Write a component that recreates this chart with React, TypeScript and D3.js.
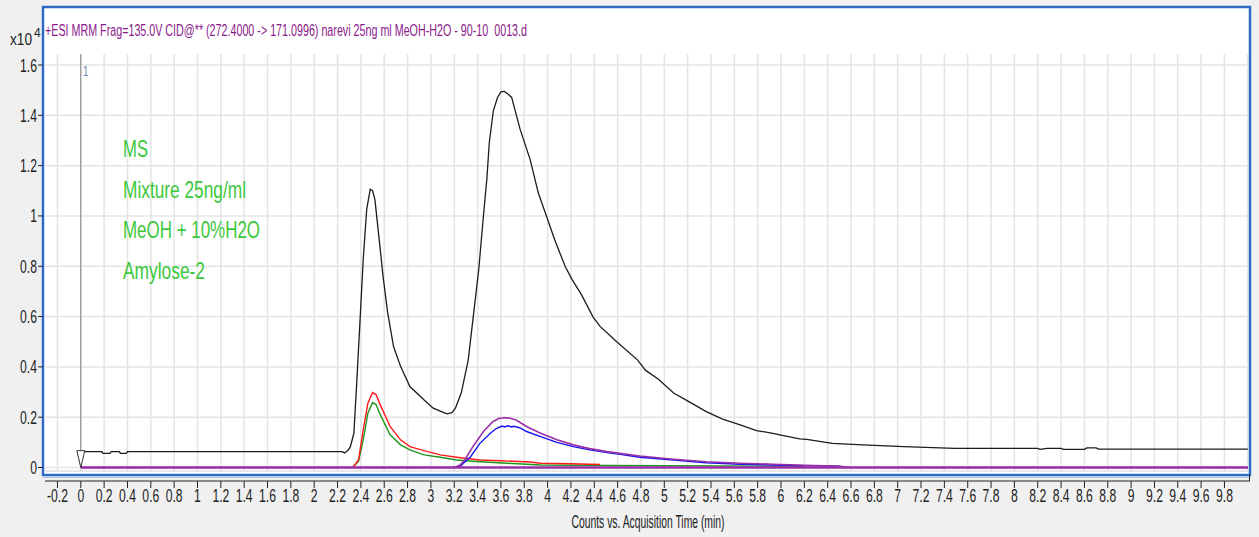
import React from 'react';
import * as d3 from 'd3';

// chromatogram traces, [time (min), counts x10^4]
const totalTrace: [number, number][] = [
  [0, 0.063], [0.18, 0.063], [0.19, 0.056], [0.25, 0.056], [0.26, 0.063], [0.33, 0.063],
  [0.34, 0.056], [0.39, 0.056], [0.4, 0.063], [2.24, 0.063], [2.26, 0.058], [2.29, 0.068],
  [2.31, 0.083], [2.34, 0.136], [2.36, 0.3], [2.39, 0.56], [2.42, 0.827], [2.45, 1.026],
  [2.48, 1.106], [2.5, 1.1], [2.52, 1.066], [2.56, 0.893], [2.59, 0.76], [2.63, 0.614],
  [2.68, 0.481], [2.74, 0.402], [2.82, 0.322], [2.94, 0.269], [3.02, 0.236], [3.1, 0.22],
  [3.14, 0.213], [3.18, 0.218], [3.21, 0.236], [3.26, 0.296], [3.32, 0.428], [3.36, 0.588],
  [3.41, 0.787], [3.45, 1.0], [3.48, 1.15], [3.5, 1.29], [3.535, 1.418], [3.57, 1.47],
  [3.6, 1.493], [3.63, 1.495], [3.66, 1.485], [3.692, 1.471], [3.764, 1.345], [3.85, 1.225],
  [3.92, 1.092], [3.99, 1.0], [4.06, 0.906], [4.15, 0.8], [4.21, 0.747], [4.29, 0.687],
  [4.39, 0.598], [4.45, 0.561], [4.59, 0.501], [4.77, 0.428], [4.84, 0.386], [4.95, 0.351],
  [5.08, 0.296], [5.21, 0.262], [5.36, 0.222], [5.5, 0.192], [5.65, 0.169], [5.79, 0.147],
  [5.93, 0.136], [6.0, 0.129], [6.16, 0.114], [6.22, 0.112], [6.44, 0.096], [6.7, 0.09],
  [7.05, 0.083], [7.49, 0.076], [8.2, 0.076], [8.22, 0.072], [8.28, 0.076], [8.4, 0.076],
  [8.42, 0.072], [8.6, 0.072], [8.62, 0.078], [8.7, 0.078], [8.72, 0.073], [10.0, 0.073],
];

const redTrace: [number, number][] = [
  [2.33, 0], [2.38, 0.03], [2.42, 0.15], [2.46, 0.256], [2.5, 0.298], [2.53, 0.29],
  [2.56, 0.256], [2.65, 0.163], [2.74, 0.11], [2.82, 0.083], [2.94, 0.067], [3.08, 0.05],
  [3.22, 0.041], [3.42, 0.03], [3.59, 0.027], [3.85, 0.022], [3.94, 0.017], [4.2, 0.015],
  [4.45, 0.012],
];

const greenTrace: [number, number][] = [
  [2.33, 0], [2.38, 0.025], [2.42, 0.11], [2.46, 0.216], [2.5, 0.258], [2.53, 0.25],
  [2.56, 0.216], [2.65, 0.13], [2.74, 0.09], [2.82, 0.07], [2.94, 0.05], [3.08, 0.041],
  [3.22, 0.03], [3.42, 0.023], [3.65, 0.017], [3.94, 0.01], [4.5, 0.008], [5.5, 0.006],
  [6.2, 0.005],
];

const blueTrace: [number, number][] = [
  [3.2, 0], [3.25, 0.005], [3.34, 0.043], [3.42, 0.096], [3.51, 0.136], [3.56, 0.155],
  [3.61, 0.165], [3.63, 0.161], [3.66, 0.166], [3.69, 0.161], [3.71, 0.164], [3.76, 0.158],
  [3.82, 0.143], [3.94, 0.123], [4.08, 0.1], [4.22, 0.083], [4.36, 0.07], [4.51, 0.059],
  [4.65, 0.05], [4.79, 0.041], [5.08, 0.03], [5.36, 0.019], [5.65, 0.013], [5.93, 0.01],
  [6.2, 0.007], [6.5, 0.005], [6.55, 0],
];

const purpleTrace: [number, number][] = [
  [0, 0], [3.2, 0], [3.25, 0.01], [3.29, 0.03], [3.36, 0.083], [3.45, 0.143], [3.53, 0.182],
  [3.58, 0.195], [3.63, 0.198], [3.68, 0.196], [3.73, 0.189], [3.82, 0.163], [3.94, 0.136],
  [4.08, 0.11], [4.22, 0.09], [4.36, 0.075], [4.51, 0.063], [4.65, 0.054], [4.79, 0.046],
  [5.08, 0.033], [5.36, 0.023], [5.65, 0.017], [5.93, 0.013], [6.2, 0.009], [6.48, 0.006],
  [6.6, 0], [10.0, 0],
];

const yTicks = [0, 0.2, 0.4, 0.6, 0.8, 1, 1.2, 1.4, 1.6];
const xTicks = d3.range(-1, 50).map(i => i / 5);
const gridX = d3.range(-1, 51).map(i => i / 5);

const titleText = '+ESI MRM Frag=135.0V CID@** (272.4000 -> 171.0996) narevi 25ng ml MeOH-H2O - 90-10  0013.d';
const noteLines = ['MS', 'Mixture 25ng/ml', 'MeOH + 10%H2O', 'Amylose-2'];
const noteWidths = [25, 123, 137, 82];

const W = 1259;
const H = 537;
const FONT = '"Liberation Sans", Arial, sans-serif';

const App: React.FC = () => {
  const plot = { left: 45, right: 1248, top: 54, bottom: 471 };
  const x = d3.scaleLinear().domain([0, 7]).range([80.8, 80.8 + 7 * 116.7]);
  const y = d3.scaleLinear().domain([0, 1.6]).range([467.5, 65]);

  const line = d3.line<[number, number]>()
    .x(d => x(d[0]))
    .y(d => y(d[1]));

  const x0 = x(0);
  const fmt = (v: number) => String(+v.toFixed(1));

  return (
    <svg width={W} height={H} style={{ position: 'fixed', left: 0, top: 0 }} fontFamily={FONT}>
      <rect x={0} y={0} width={W} height={H} fill="#f0f0f0" />
      <rect x={43} y={6} width={1207} height={470} fill="#fff" />

      {/* grille */}
      {gridX.filter(t => x(t) > plot.left && x(t) < plot.right).map(t => (
        <line key={'gx' + t} x1={x(t)} x2={x(t)} y1={plot.top} y2={plot.bottom}
          stroke="#e4e4e4" strokeWidth={1.5} />
      ))}
      {yTicks.map(v => (
        <line key={'gy' + v} x1={plot.left} x2={plot.right} y1={y(v)} y2={y(v)}
          stroke="#e4e4e4" strokeWidth={1.5} />
      ))}
      <line x1={plot.left} x2={plot.right} y1={plot.bottom} y2={plot.bottom} stroke="#d0d0d0" strokeWidth={1} />

      {/* marqueur au temps 0 */}
      <line x1={x0} x2={x0} y1={plot.top} y2={y(0)} stroke="#808080" strokeWidth={1} />
      <text transform={`translate(${x0 + 2},${76}) scale(0.7,1)`} fontSize={15} fill="#6d8bb8">1</text>

      {/* traces */}
      <path d={line(totalTrace) || ''} fill="none" stroke="#1c1c1c" strokeWidth={1.3} />
      <path d={line(greenTrace) || ''} fill="none" stroke="#1e961e" strokeWidth={1.4} />
      <path d={line(redTrace) || ''} fill="none" stroke="#ff1a1a" strokeWidth={1.4} />
      <path d={line(blueTrace) || ''} fill="none" stroke="#1414f0" strokeWidth={1.4} />
      <path d={line(purpleTrace) || ''} fill="none" stroke="#9a30a8" strokeWidth={1.6} />
      <line x1={x0} x2={plot.right} y1={y(0)} y2={y(0)} stroke="#9a30a8" strokeWidth={2.5} />
      <path d={`M${x0 - 4},${y(0.063) - 1}L${x0 + 4},${y(0.063) - 1}L${x0},${y(0)}Z`}
        fill="#fff" stroke="#333" strokeWidth={1} />

      {/* cadre bleu */}
      <rect x={43} y={7} width={1207} height={468} fill="none" stroke="#2f6bc6" strokeWidth={2.5} />
      <line x1={43} x2={1250} y1={477.5} y2={477.5} stroke="#a9c4ea" strokeWidth={1} />

      {/* titre */}
      <text x={10} y={45} fontSize={16} fill="#222" textLength={22} lengthAdjust="spacingAndGlyphs">x10</text>
      <text x={34} y={37} fontSize={12} fill="#222">4</text>
      <text x={45} y={36} fontSize={16} fill="#8b1a8b" textLength={482} lengthAdjust="spacingAndGlyphs"
        style={{ whiteSpace: 'pre' }}>{titleText}</text>

      {/* annotation */}
      {noteLines.map((s, i) => (
        <text key={s} x={123} y={157 + i * 40.7} fontSize={24} fill="#3cc83c"
          textLength={noteWidths[i]} lengthAdjust="spacingAndGlyphs">{s}</text>
      ))}

      {/* axe Y */}
      {yTicks.map(v => (
        <g key={'yt' + v}>
          <line x1={38} x2={43} y1={y(v)} y2={y(v)} stroke="#222" strokeWidth={1} />
          <text transform={`translate(${37},${y(v) + 6.5}) scale(0.64,1)`} textAnchor="end"
            fontSize={19} fill="#222">{fmt(v)}</text>
        </g>
      ))}

      {/* axe X */}
      <line x1={45} x2={1250} y1={481} y2={481} stroke="#222" strokeWidth={1.2} />
      <line x1={1249.5} x2={1249.5} y1={475} y2={481} stroke="#222" strokeWidth={1} />
      {xTicks.map(t => (
        <g key={'xt' + t}>
          <line x1={x(t)} x2={x(t)} y1={481} y2={488} stroke="#222" strokeWidth={1} />
          <text transform={`translate(${x(t)},${502}) scale(0.64,1)`} textAnchor="middle"
            fontSize={19} fill="#222">{fmt(t)}</text>
        </g>
      ))}
      <text x={648} y={528} fontSize={18} fill="#222" textAnchor="middle"
        textLength={153} lengthAdjust="spacingAndGlyphs">Counts vs. Acquisition Time (min)</text>
    </svg>
  );
};

export default App;
